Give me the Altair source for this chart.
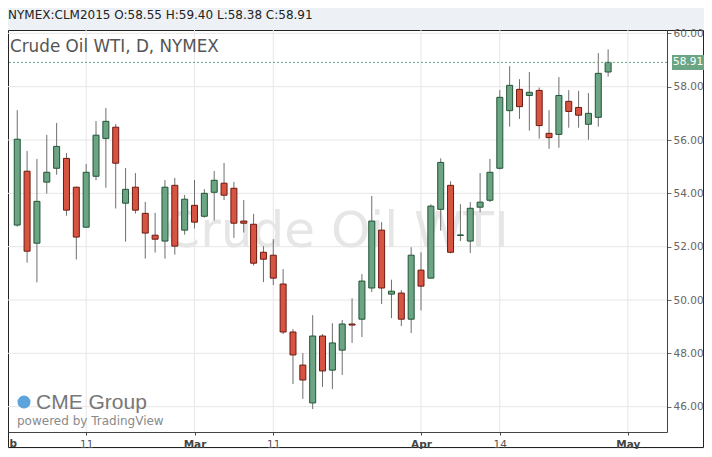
import altair as alt
import pandas as pd

# ---- data ----
opens = [52.81, 54.83, 52.13, 54.42, 54.94, 55.31, 54.23, 52.73, 54.64, 56.06,
         56.48, 53.63, 54.23, 53.25, 52.43, 52.21, 54.30, 52.62, 53.55, 53.14,
         54.04, 54.38, 54.19, 52.96, 52.84, 51.79, 51.68, 50.60, 48.80, 47.56,
         46.14, 48.65, 47.37, 48.12, 49.10, 49.28, 50.45, 52.62, 50.22, 50.26,
         49.28, 51.12, 50.82, 53.40, 54.30, 52.42, 52.21, 53.48, 53.74, 54.94,
         57.10, 57.90, 57.67, 57.86, 56.25, 56.21, 57.45, 57.22, 56.59, 56.85,
         58.55]
highs = [57.12, 55.59, 55.29, 56.19, 56.64, 55.51, 54.25, 55.10, 56.71, 57.20,
         56.60, 54.95, 54.76, 53.68, 53.27, 54.50, 54.58, 53.94, 54.50, 54.16,
         54.84, 55.14, 54.43, 53.75, 53.23, 52.02, 52.28, 51.16, 48.91, 48.01,
         49.43, 48.72, 49.13, 49.25, 50.06, 50.97, 53.90, 52.92, 50.76, 50.37,
         51.98, 51.79, 53.59, 55.31, 54.45, 53.59, 53.67, 54.76, 55.29, 57.87,
         58.77, 58.28, 58.55, 57.97, 57.12, 58.36, 57.87, 57.84, 57.76, 59.26,
         59.40]
lows = [52.75, 51.40, 50.66, 53.99, 54.70, 53.16, 51.52, 52.70, 54.49, 54.21,
        53.43, 52.19, 53.24, 51.55, 51.78, 51.55, 51.70, 52.45, 52.68, 53.09,
        52.98, 53.75, 52.33, 52.53, 51.29, 50.67, 50.56, 48.72, 46.85, 46.29,
        45.91, 46.74, 46.66, 47.19, 48.39, 48.61, 50.30, 49.85, 49.32, 49.02,
        48.76, 49.61, 50.80, 52.60, 51.75, 52.21, 51.76, 53.29, 53.67, 54.90,
        56.50, 56.79, 56.35, 56.05, 55.67, 55.71, 56.46, 56.46, 56.01, 56.50,
        58.38]
closes = [56.03, 51.83, 53.70, 54.79, 55.76, 53.37, 52.36, 54.79, 56.18, 56.70,
          55.13, 54.15, 53.37, 52.51, 52.28, 54.23, 52.02, 53.78, 52.92, 54.00,
          54.49, 53.93, 52.88, 52.88, 51.38, 51.53, 50.82, 48.80, 47.94, 47.00,
          48.65, 47.34, 48.39, 49.10, 49.06, 50.71, 52.96, 50.45, 50.33, 49.28,
          51.68, 50.52, 53.52, 55.16, 51.79, 52.44, 53.44, 53.67, 54.79, 57.60,
          58.05, 57.25, 57.79, 56.54, 56.09, 57.67, 57.07, 56.93, 57.00, 58.50,
          58.91]

tick_idx = [8, 19, 27, 42, 50, 63]
tick_lab = ["11", "Mar", "11", "Apr", "14", "May"]
month_idx = [19, 42, 63]
price_ticks = [46, 48, 50, 52, 54, 56, 58, 60]
last_price = 58.91

header = "NYMEX:CLM2015 O:58.55 H:59.40 L:58.38 C:58.91"
title = "Crude Oil WTI, D, NYMEX"
watermark = "Crude Oil WTI"

GREEN, GREEN_D = "#6ba583", "#225437"
RED, RED_D = "#d75442", "#6d1a0f"

df = pd.DataFrame({"open": opens, "high": highs, "low": lows, "close": closes})
df["idx"] = range(1, len(df) + 1)
df["dir"] = ["up" if c >= o else "down" for o, c in zip(opens, closes)]

xs = alt.Scale(domain=[0.57, 66.47], nice=False, zero=False)
ys = alt.Scale(domain=[45.05, 60.125], nice=False, zero=False)

label_expr = " : ".join(
    f"datum.value == {i} ? '{l}'" for i, l in zip(tick_idx, tick_lab)
) + " : ''"
month_test = " || ".join(f"datum.value == {i}" for i in month_idx)

xaxis = alt.Axis(
    values=tick_idx, labelExpr=label_expr, grid=False, orient="bottom", title=None,
    labelFontSize=10.5, labelPadding=4, tickSize=3, tickColor="#444",
    domainColor="#444", labelFlush=False, labelOverlap=False, zindex=1,
    labelFontWeight={"condition": {"test": month_test, "value": "bold"}, "value": "normal"},
    labelColor={"condition": {"test": month_test, "value": "#444"}, "value": "#555"},
)
yaxis = alt.Axis(
    values=price_ticks, format=".2f", orient="right", grid=False, title=None,
    labelFontSize=10.5, labelColor="#666", tickColor="#666", tickSize=4,
    labelPadding=2, domainColor="#444", labelFlush=False, labelOverlap=False, zindex=1,
)

# frame (white panel with dark border)
frame = alt.Chart(pd.DataFrame({"a": [0]})).mark_rect(
    fill="white", stroke="#222", strokeWidth=1, clip=False
).encode(x=alt.value(0.5), x2=alt.value(695.5), y=alt.value(0.5), y2=alt.value(417.5))

wm = alt.Chart(pd.DataFrame({"t": [watermark]})).mark_text(
    font="DejaVu Sans", fontSize=50, color="#e6e6e6", align="center", baseline="alphabetic"
).encode(text="t:N", x=alt.value(329), y=alt.value(217))

ygrid = alt.Chart(pd.DataFrame({"p": price_ticks})).mark_rule(
    color="#e6e6e6", strokeWidth=1
).encode(y=alt.Y("p:Q", scale=ys, axis=yaxis))

xgrid = alt.Chart(pd.DataFrame({"i": tick_idx})).mark_rule(
    color="#e6e6e6", strokeWidth=1
).encode(x=alt.X("i:Q", scale=xs, axis=xaxis))

globe = alt.Chart(pd.DataFrame({"a": [0]})).mark_point(
    shape="circle", filled=True, color="#5ea4dc", size=170, opacity=1
).encode(x=alt.value(16), y=alt.value(372))

cme = alt.Chart(pd.DataFrame({"t": ["CME Group"]})).mark_text(
    font="Liberation Sans", fontSize=21, color="#777", align="left", baseline="alphabetic"
).encode(text="t:N", x=alt.value(28), y=alt.value(379))

powered = alt.Chart(pd.DataFrame({"t": ["powered by TradingView"]})).mark_text(
    font="DejaVu Sans", fontSize=12, color="#8a8a8a", align="left", baseline="alphabetic"
).encode(text="t:N", x=alt.value(9), y=alt.value(395))

ttl = alt.Chart(pd.DataFrame({"t": [title]})).mark_text(
    font="DejaVu Sans", fontSize=16.8, color="#555", align="left", baseline="alphabetic"
).encode(text="t:N", x=alt.value(2), y=alt.value(22))

hdr = alt.Chart(pd.DataFrame({"t": [header]})).mark_text(
    font="DejaVu Sans", fontSize=12, color="#222", align="left", baseline="alphabetic", clip=False
).encode(text="t:N", x=alt.value(0), y=alt.value(-11))

blab = alt.Chart(pd.DataFrame({"t": ["b"]})).mark_text(
    font="DejaVu Sans", fontSize=10.5, fontWeight="bold", color="#444",
    align="left", baseline="top", clip=False
).encode(text="t:N", x=alt.value(1.5), y=alt.value(409))

base = alt.Chart(df)
wicks = base.mark_rule(color="#6e6e6e", strokeWidth=1).encode(
    x=alt.X("idx:Q", scale=xs, axis=xaxis),
    y=alt.Y("low:Q", scale=ys, axis=yaxis),
    y2="high:Q",
)

bodies = base.mark_bar(size=6, strokeWidth=1, orient="vertical").encode(
    x=alt.X("idx:Q", scale=xs, axis=xaxis),
    y=alt.Y("open:Q", scale=ys, axis=yaxis),
    y2="close:Q",
    fill=alt.Fill("dir:N", scale=alt.Scale(domain=["up", "down"], range=[GREEN, RED]), legend=None),
    stroke=alt.Stroke("dir:N", scale=alt.Scale(domain=["up", "down"], range=[GREEN_D, RED_D]), legend=None),
)

pline = alt.Chart(pd.DataFrame({"p": [last_price]})).mark_rule(
    color=GREEN, strokeDash=[2, 2], strokeWidth=1
).encode(y=alt.Y("p:Q", scale=ys, axis=yaxis))

pbox = alt.Chart(pd.DataFrame({"p": [last_price]})).mark_point(
    shape="M-1,-0.4545L1,-0.4545L1,0.4545L-1,0.4545Z", filled=True, fill=GREEN,
    strokeWidth=0, size=1089, opacity=1, clip=False
).encode(x=alt.value(680.5), y=alt.Y("p:Q", scale=ys, axis=yaxis))

ptext = alt.Chart(pd.DataFrame({"p": [last_price]})).mark_text(
    font="DejaVu Sans", fontSize=10.5, color="white", align="left", baseline="middle", clip=False
).encode(x=alt.value(665), y=alt.Y("p:Q", scale=ys, axis=yaxis), text=alt.Text("p:Q", format=".2f"))

chart = alt.layer(
    frame, wm, ygrid, xgrid, globe, cme, powered, ttl, hdr, blab,
    wicks, bodies, pline, pbox, ptext
).properties(
    width=659, height=402, autosize="none",
    padding={"left": 0, "top": 22, "right": 37, "bottom": 17},
    background="#edf1f5",
).configure_view(strokeWidth=0).configure(font="DejaVu Sans")

chart.save("out.html", embed_options={"renderer": "svg", "actions": False})
